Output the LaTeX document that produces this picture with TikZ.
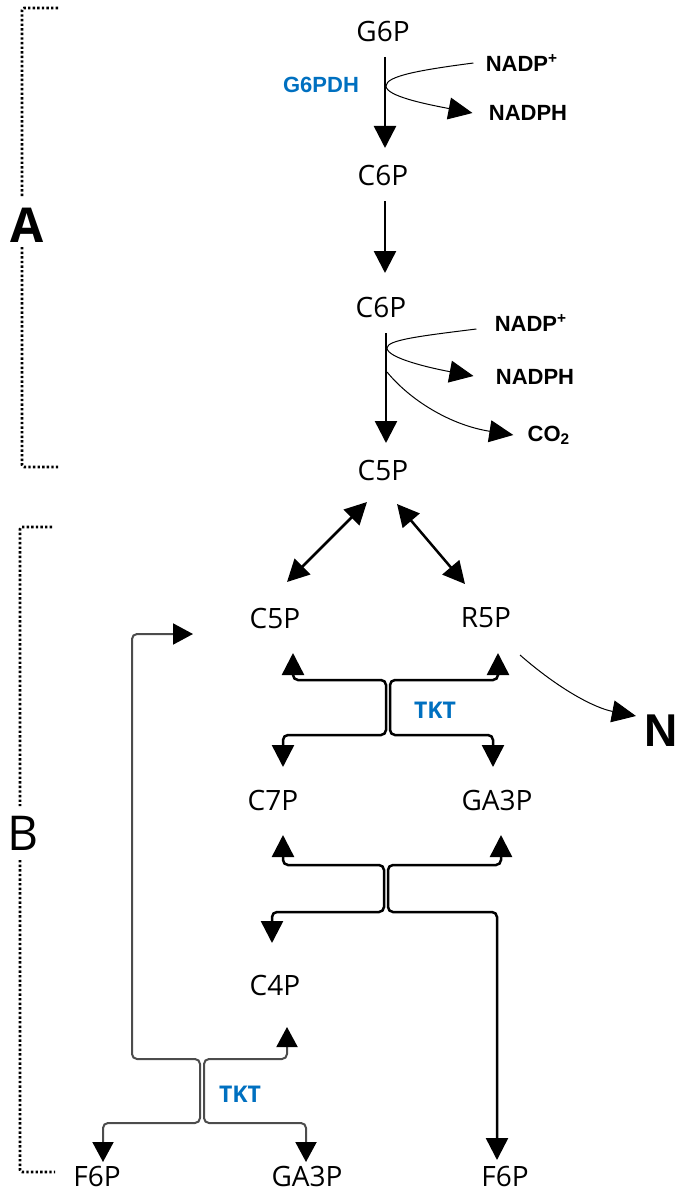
\documentclass[tikz,border=0pt]{standalone}
\usepackage{fontspec}
\setmainfont{Open Sans}
\newfontfamily\arialfont{Liberation Sans}
\usetikzlibrary{arrows.meta,calc}
\definecolor{enzblue}{RGB}{0,112,192}
\tikzset{
    metab/.style={
           inner sep=0pt,
           font=\fontsize{14}{16}\selectfont},
    cofac/.style={
           inner sep=0pt,
           font=\arialfont\bfseries\fontsize{11}{13}\selectfont},
    enzyme/.style={
           inner sep=0pt, text=enzblue,
           font=\bfseries\fontsize{11.5}{13}\selectfont},
    phase/.style={
           inner sep=0pt,
           font=\fontsize{24}{28}\selectfont},
    flux/.style={
           line width=1.25pt,
           -{Triangle[length=11pt,width=11pt]}},
    side/.style={
           line width=0.5pt,
           -{Triangle[length=12pt,width=11pt]}},
    swap/.style={
           line width=1.25pt, rounded corners=2.5pt,
           {Triangle[length=11pt,width=11pt]}-{Triangle[length=11pt,width=11pt]}},
    swapgr/.style={
           draw=black!70, line width=1pt, rounded corners=2.5pt,
           {Triangle[length=10pt,width=10.5pt,color=black]}-{Triangle[length=10pt,width=10.5pt,color=black]}},
    bracket/.style={
           line width=1.3pt, rounded corners=1pt,
           dash pattern=on 1.2pt off 1.1pt}
}

\begin{document}
\begin{tikzpicture}[x=0.5pt,y=-0.5pt]
      \useasboundingbox (0,0) rectangle (679,1193);
      % oxidative part
      \node[metab] (g6p) at (383,32) {G6P};
      \node[cofac, text=enzblue] (g6pdh) at (321,85) {G6PDH};
      \node[cofac] (nadpa) at (522,63) {NADP\textsuperscript{+}};
      \node[cofac] (nadpha) at (528,113) {NADPH};
      \node[metab] (c6pa) at (383,175) {C6P};
      \node[metab] (c6pb) at (381,307) {C6P};
      \node[cofac] (nadpb) at (531,323) {NADP\textsuperscript{+}};
      \node[cofac] (nadphb) at (535,377) {NADPH};
      \node[cofac] (co2) at (549,435) {CO\textsubscript{2}};
      \node[metab] (c5pa) at (383,470) {C5P};
      % non oxidative part
      \node[metab] (c5pb) at (275,618) {C5P};
      \node[metab] (r5p) at (486,618) {R5P};
      \node[enzyme] (tkta) at (435,710) {TKT};
      \node[phase, font=\arialfont\bfseries\fontsize{23}{28}\selectfont, anchor=east] (nuc) at (678,731) {N};
      \node[metab] (c7p) at (273,800) {C7P};
      \node[metab] (ga3pa) at (497,800) {GA3P};
      \node[metab] (c4p) at (275,985) {C4P};
      \node[enzyme] (tktb) at (240,1094) {TKT};
      \node[metab] (f6pa) at (97,1176) {F6P};
      \node[metab] (ga3pb) at (307,1176) {GA3P};
      \node[metab] (f6pb) at (505,1176) {F6P};
      \node[phase, font=\bfseries\fontsize{24}{28}\selectfont] (laba) at (27,225) {A};
      \node[phase] (labb) at (23,833) {B};
      \coordinate (ja) at (388,707);
      \coordinate (jb) at (386,888);
      \coordinate (jc) at (202,1091);
      \draw[bracket] (58,8) -- (22,8) -- (22,198);
      \draw[bracket] (22,247) -- (22,467) -- (58,467);
      \draw[bracket] (52,527) -- (20,527) -- (20,806);
      \draw[bracket] (20,860) -- (20,1172) -- (55,1172);
      \draw[flux] ($(g6p)+(2,25)$) -- ($(c6pa)+(2,-27)$);
      \draw[flux] ($(c6pa)+(2,26)$) -- ($(c6pb)+(4,-34)$);
      \draw[flux] ($(c6pb)+(5,26)$) -- ($(c5pa)+(3,-27)$);
      \draw[side] ($(nadpa.west)+(-12,0)$) .. controls (420,70) and (386,76) .. (386,86)
            .. controls (386,96) and (425,104) .. ($(nadpha.west)+(-16,0)$);
      \draw[side] ($(nadpb.west)+(-18,6)$) .. controls (420,336) and (387,340) .. (387,348)
            .. controls (387,358) and (430,368) .. ($(nadphb.west)+(-22,-1)$);
      \draw[side] (387,372) .. controls (410,400) and (450,425) .. ($(co2.west)+(-14,0)$);
      \draw[swap, rounded corners=0pt] ($(c5pa)+(-16,32)$) -- ($(c5pb)+(12,-36)$);
      \draw[swap, rounded corners=0pt] ($(c5pa)+(14,34)$) -- ($(r5p)+(-21,-34)$);
      \draw[side] ($(r5p)+(34,37)$) .. controls (560,690) and (595,708) .. ($(nuc.west)+(-8,-15)$);
      % TKT C5P + R5P
      \draw[swap] ($(c5pb)+(18,35)$) |- ($(ja)+(-2,-27)$) |- ($(c7p)+(10,-65)$) -- ($(c7p)+(10,-33)$);
      \draw[swap] ($(r5p)+(12,35)$) |- ($(ja)+(2,-27)$) |- ($(ga3pa)+(-4,-65)$) -- ($(ga3pa)+(-4,-33)$);
      % C7P + GA3P
      \draw[swap] ($(c7p)+(10,35)$) |- ($(jb)+(-2,-23)$) |- ($(c4p)+(-3,-73)$) -- ($(c4p)+(-3,-42)$);
      \draw[swap] ($(ga3pa)+(4,35)$) |- ($(jb)+(2,-23)$) |- ($(f6pb)+(-8,-264)$) -- ($(f6pb)+(-8,-16)$);
      % TKT C4P
      \draw[swapgr] ($(c5pb)+(-82,16)$) -| ($(jc)+(-70,-32)$) -- ($(jc)+(-2,-32)$) |- ($(f6pa)+(6,-53)$) -- ($(f6pa)+(6,-14)$);
      \draw[swapgr] ($(c4p)+(12,42)$) |- ($(jc)+(2,-32)$) |- ($(ga3pb)+(-1,-53)$) -- ($(ga3pb)+(-1,-14)$);
\end{tikzpicture}
\end{document}
